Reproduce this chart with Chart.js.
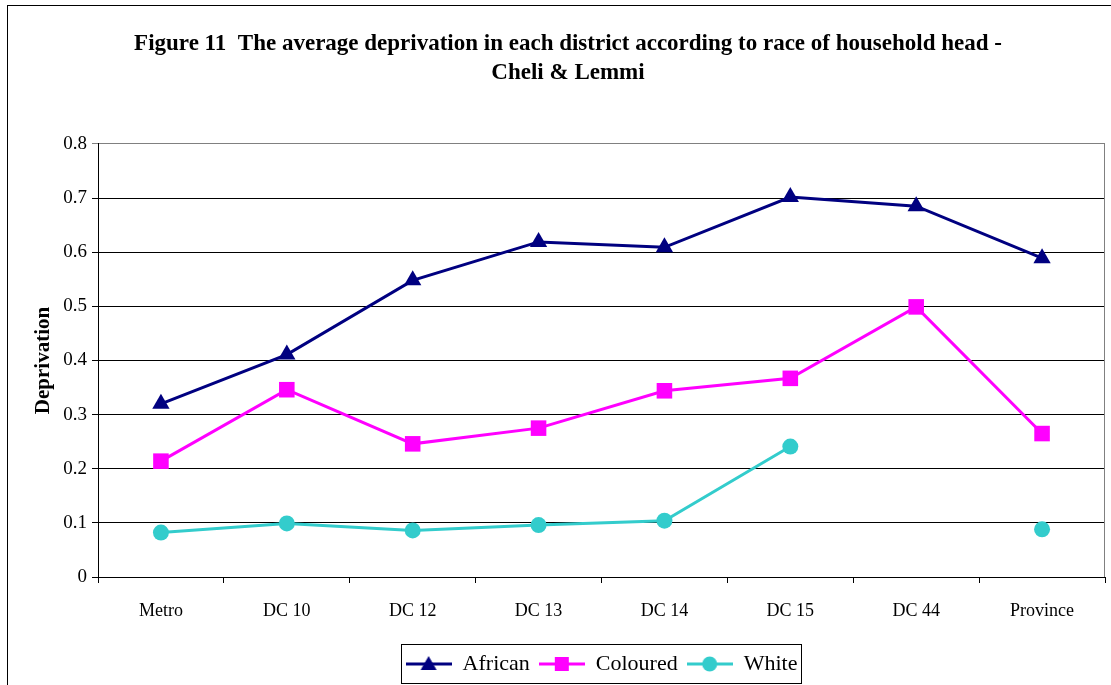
<!DOCTYPE html>
<html>
<head>
<meta charset="utf-8">
<script src="https://cdn.jsdelivr.net/npm/chart.js@4/dist/chart.umd.min.js"></script>
<style>
  html, body { margin: 0; padding: 0; background: #fff; overflow: hidden; }
  #wrap { width: 1111px; height: 685px; position: relative; }
</style>
</head>
<body>
<div id="wrap"><canvas id="myChart" width="1111" height="685"></canvas></div>
<script>
var districts = ['Metro', 'DC 10', 'DC 12', 'DC 13', 'DC 14', 'DC 15', 'DC 44', 'Province'];
var african = [0.320, 0.411, 0.548, 0.619, 0.609, 0.702, 0.685, 0.589];
var coloured = [0.214, 0.346, 0.246, 0.275, 0.344, 0.367, 0.499, 0.265];
var white = [0.082, 0.099, 0.086, 0.096, 0.104, 0.241, null, 0.088];
var yTicks = [0, 0.1, 0.2, 0.3, 0.4, 0.5, 0.6, 0.7, 0.8];

var serif = "'Liberation Serif', 'Times New Roman', serif";

// legend swatch: line with the marker in the middle, like Excel
function legendSwatch(color, style) {
    var c = document.createElement('canvas');
    c.width = 46;
    c.height = 20;
    var g = c.getContext('2d');
    g.strokeStyle = color;
    g.fillStyle = color;
    g.lineWidth = 3;
    g.beginPath();
    g.moveTo(0, 10);
    g.lineTo(46, 10);
    g.stroke();
    g.beginPath();
    if (style === 'triangle') {
        g.moveTo(23, 2);
        g.lineTo(31, 16);
        g.lineTo(15, 16);
        g.closePath();
    } else if (style === 'rect') {
        g.rect(16, 3, 14, 14);
    } else {
        g.arc(23, 10, 7.5, 0, Math.PI * 2);
    }
    g.fill();
    return c;
}

var series = [
    { label: 'African', data: african, color: '#000080', style: 'triangle', radius: 10 },
    { label: 'Coloured', data: coloured, color: '#FF00FF', style: 'rect', radius: 11 },
    { label: 'White', data: white, color: '#33CCCC', style: 'circle', radius: 8 }
];

var data = {
    labels: districts,
    datasets: series.map(function (s) {
        return {
            label: s.label,
            data: s.data,
            borderColor: s.color,
            backgroundColor: s.color,
            borderWidth: 3,
            pointStyle: s.style,
            pointRadius: s.radius,
            pointBorderWidth: 0,
            pointBackgroundColor: s.color,
            spanGaps: false,
            lineTension: 0
        };
    })
};

// frame round the whole chart, gray plot border, box round legend
var decor = {
    id: 'decor',
    afterDraw: function (chart) {
        var c = chart.ctx;
        var a = chart.chartArea;
        c.save();
        c.lineWidth = 1;
        c.strokeStyle = '#000';
        c.strokeRect(7.5, 5.5, 1200, 800);
        c.strokeStyle = '#808080';
        c.beginPath();
        c.moveTo(Math.round(a.right) - 0.5, a.top);
        c.lineTo(Math.round(a.right) - 0.5, a.bottom);
        c.stroke();
        var hb = chart.legend.legendHitBoxes;
        if (hb && hb.length) {
            var l = hb[0].left - 5;
            var r = hb[hb.length - 1].left + hb[hb.length - 1].width + 3;
            var t = hb[0].top - 9;
            var h = hb[0].height + 17;
            c.strokeStyle = '#000';
            c.strokeRect(Math.round(l) + 0.5, Math.round(t) + 0.5, Math.round(r - l), Math.round(h));
        }
        c.restore();
    }
};

var options = {
    responsive: false,
    maintainAspectRatio: false,
    animation: false,
    layout: { autoPadding: false, padding: { left: 31, right: 6, top: 0, bottom: 0 } },
    plugins: {
        title: {
            display: true,
            text: ['Figure 11  The average deprivation in each district according to race of household head -', 'Cheli & Lemmi'],
            color: '#000',
            font: { size: 23, family: serif, weight: 'bold', lineHeight: 1.26 },
            padding: { top: 30, bottom: 56 }
        },
        legend: {
            display: true,
            position: 'bottom',
            fullSize: false,
            labels: {
                color: '#000',
                font: { size: 22, family: serif },
                usePointStyle: true,
                pointStyleWidth: 46,
                padding: 9,
                generateLabels: function (chart) {
                    return series.map(function (s, i) {
                        return {
                            text: s.label,
                            fillStyle: s.color,
                            strokeStyle: s.color,
                            lineWidth: 0,
                            pointStyle: legendSwatch(s.color, s.style),
                            datasetIndex: i,
                            fontColor: '#000'
                        };
                    });
                }
            }
        },
        tooltip: { enabled: false }
    },
    scales: {
        x: {
            offset: true,
            grid: {
                offset: true,
                drawOnChartArea: false,
                tickLength: 6,
                color: '#000'
            },
            border: { color: '#000', width: 1 },
            ticks: {
                color: '#000',
                padding: 17,
                maxRotation: 0,
                font: { size: 18, family: serif }
            },
            afterFit: function (scale) { scale.height = 67; }
        },
        y: {
            min: 0,
            max: 0.8,
            afterBuildTicks: function (scale) {
                scale.ticks = yTicks.map(function (v) { return { value: v }; });
            },
            grid: {
                color: function (ctx) {
                    return ctx.tick && ctx.tick.value === 0.8 ? '#808080' : '#000';
                },
                tickLength: 6,
                lineWidth: 1
            },
            border: { color: '#000', width: 1 },
            title: {
                display: true,
                text: 'Deprivation',
                color: '#000',
                font: { size: 21, family: serif, weight: 'bold' },
                padding: { top: 0, bottom: 0 }
            },
            ticks: {
                color: '#000',
                padding: 5,
                font: { size: 19, family: serif },
                callback: function (v) { return String(Math.round(v * 10) / 10); }
            },
            afterFit: function (scale) { scale.width = 67; }
        }
    }
};

var ctx = document.getElementById('myChart').getContext('2d');

var myChart = new Chart(ctx, {
    type: 'line',
    data: data,
    options: options,
    plugins: [decor]
});
</script>
</body>
</html>
